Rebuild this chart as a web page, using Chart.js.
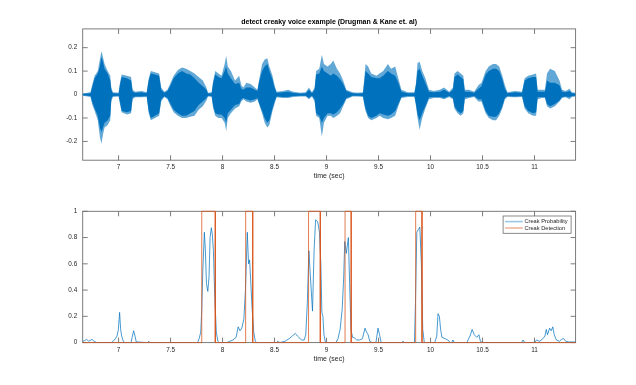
<!DOCTYPE html>
<html>
<head>
<meta charset="utf-8">
<script src="https://cdn.jsdelivr.net/npm/chart.js@4.4.0/dist/chart.umd.min.js"></script>
<style>
  body { margin: 0; background: #fff; }
  #wrap { position: relative; width: 636px; height: 385px; }
  canvas { position: absolute; left: 0; }
</style>
</head>
<body>
<div id="wrap">
  <canvas id="wave" width="636" height="192" style="top:0"></canvas>
  <canvas id="creak" width="636" height="193" style="top:192px"></canvas>
</div>
<script>
// time axis (sec)
const timeMin = 6.655;
const timeMax = 11.395;
const timeTicks = [7, 7.5, 8, 8.5, 9, 9.5, 10, 10.5, 11];

const waveTime = [
  6.655, 6.70, 6.73, 6.745, 6.77, 6.80, 6.82, 6.835, 6.85, 6.865, 6.895, 6.92, 6.93, 6.945,
  7.00, 7.013, 7.03, 7.08, 7.12, 7.135, 7.16, 7.22, 7.27, 7.29, 7.31, 7.35, 7.39, 7.41, 7.44, 7.47,
  7.50, 7.53, 7.57, 7.61, 7.65, 7.69, 7.73, 7.77, 7.81, 7.845, 7.86, 7.895, 7.91, 7.93, 7.96, 7.99, 8.02, 8.035, 8.05, 8.08, 8.12, 8.16, 8.18, 8.20,
  8.23, 8.27, 8.31, 8.335, 8.35, 8.38, 8.405, 8.43, 8.45, 8.48, 8.50, 8.52, 8.58, 8.63, 8.68, 8.75, 8.80, 8.83, 8.86, 8.885, 8.90, 8.93, 8.955,
  8.975, 9.01, 9.04, 9.065, 9.10, 9.13, 9.16, 9.19, 9.22, 9.25, 9.30, 9.35, 9.365, 9.375, 9.40, 9.43, 9.48, 9.51, 9.545, 9.59, 9.62, 9.66, 9.69,
  9.72, 9.78, 9.845, 9.86, 9.875, 9.895, 9.92, 9.95, 9.985, 10.03, 10.09, 10.13, 10.18, 10.215, 10.23, 10.26, 10.29, 10.315, 10.33, 10.37, 10.42, 10.46,
  10.49, 10.53, 10.56, 10.60, 10.63, 10.66, 10.69, 10.715, 10.74, 10.81, 10.88, 10.905, 10.94, 10.985, 11.015, 11.03, 11.07, 11.10, 11.12, 11.15, 11.195, 11.24, 11.265, 11.30, 11.335, 11.36, 11.395
];
const waveOuterTop = [
  .005, .008, .01, .04, .08, .10, .15, .185, .16, .13, .10, .08, .03, .01,
  .008, .05, .085, .08, .075, .02, .012, .015, .01, .07, .10, .095, .09, .03, .012, .02,
  .05, .08, .105, .115, .11, .10, .09, .075, .06, .03, .008, .01, .06, .10, .09, .08, .13, .165, .12, .10, .06, .08, .04, .03,
  .05, .045, .03, .02, .06, .13, .15, .155, .12, .08, .04, .012, .015, .02, .012, .008, .01, .03, .01, .03, .10, .11, .17,
  .13, .12, .13, .145, .11, .09, .06, .02, .015, .01, .008, .01, .08, .13, .12, .09, .08, .09, .10, .13, .11, .12, .07,
  .02, .01, .01, .05, .135, .14, .10, .07, .02, .015, .02, .03, .012, .03, .09, .10, .09, .08, .02, .02, .012, .04,
  .05, .10, .12, .13, .13, .12, .08, .04, .01, .015, .012, .07, .08, .085, .09, .02, .02, .02, .09, .11, .10, .06, .02, .015, .025, .01, .008
];
const waveOuterBot = [
  -.005, -.008, -.01, -.04, -.07, -.11, -.18, -.21, -.17, -.14, -.13, -.11, -.03, -.01,
  -.008, -.04, -.075, -.085, -.08, -.02, -.012, -.012, -.01, -.08, -.11, -.10, -.09, -.03, -.01, -.02,
  -.05, -.075, -.09, -.10, -.10, -.095, -.09, -.065, -.05, -.025, -.008, -.01, -.06, -.09, -.10, -.10, -.12, -.155, -.10, -.08, -.06, -.05, -.03, -.02,
  -.03, -.035, -.03, -.02, -.04, -.08, -.12, -.14, -.13, -.07, -.04, -.012, -.015, -.015, -.01, -.008, -.008, -.02, -.008, -.03, -.09, -.10, -.18,
  -.12, -.09, -.09, -.10, -.09, -.08, -.05, -.02, -.015, -.008, -.008, -.01, -.05, -.07, -.10, -.11, -.10, -.09, -.10, -.105, -.10, -.09, -.05,
  -.015, -.01, -.01, -.05, -.10, -.15, -.10, -.06, -.02, -.015, -.015, -.02, -.01, -.02, -.06, -.08, -.09, -.08, -.02, -.015, -.01, -.03,
  -.03, -.08, -.10, -.11, -.11, -.09, -.06, -.02, -.01, -.012, -.01, -.06, -.08, -.09, -.09, -.02, -.015, -.015, -.05, -.06, -.05, -.03, -.015, -.012, -.02, -.01, -.008
];
const waveCoreTop = [
  .003, .005, .006, .03, .07, .09, .12, .16, .14, .11, .09, .06, .02, .006,
  .005, .04, .075, .07, .06, .012, .008, .01, .006, .06, .09, .085, .08, .02, .008, .015,
  .04, .07, .09, .10, .09, .085, .07, .05, .035, .02, .005, .006, .05, .085, .075, .07, .10, .12, .09, .07, .045, .05, .025, .02,
  .03, .03, .02, .015, .05, .10, .12, .13, .10, .065, .03, .008, .01, .012, .007, .005, .006, .02, .006, .02, .085, .09, .12,
  .10, .09, .08, .09, .08, .065, .045, .015, .01, .006, .005, .006, .06, .10, .09, .075, .07, .07, .08, .10, .09, .08, .05,
  .012, .006, .006, .04, .10, .11, .08, .05, .012, .01, .012, .02, .008, .02, .075, .085, .075, .065, .012, .012, .008, .025,
  .035, .085, .10, .11, .11, .10, .065, .025, .006, .01, .008, .06, .07, .075, .075, .012, .012, .012, .06, .05, .05, .04, .012, .01, .015, .006, .005
];
const waveCoreBot = [
  -.003, -.005, -.006, -.03, -.06, -.09, -.14, -.16, -.14, -.12, -.11, -.09, -.02, -.006,
  -.005, -.03, -.07, -.075, -.07, -.012, -.008, -.008, -.006, -.07, -.10, -.09, -.08, -.02, -.007, -.015,
  -.04, -.065, -.08, -.09, -.09, -.08, -.07, -.045, -.03, -.015, -.005, -.006, -.05, -.08, -.085, -.085, -.10, -.12, -.08, -.065, -.045, -.04, -.02, -.015,
  -.02, -.025, -.02, -.015, -.035, -.07, -.10, -.12, -.11, -.06, -.03, -.008, -.01, -.01, -.006, -.005, -.005, -.015, -.005, -.02, -.08, -.09, -.12,
  -.10, -.08, -.08, -.085, -.075, -.06, -.04, -.015, -.01, -.005, -.005, -.006, -.04, -.06, -.09, -.10, -.09, -.08, -.085, -.09, -.085, -.07, -.04,
  -.01, -.006, -.006, -.04, -.085, -.11, -.08, -.05, -.012, -.01, -.01, -.015, -.006, -.015, -.05, -.07, -.08, -.07, -.012, -.01, -.006, -.02,
  -.02, -.07, -.09, -.095, -.095, -.08, -.05, -.015, -.006, -.008, -.006, -.05, -.07, -.08, -.075, -.012, -.01, -.01, -.04, -.05, -.04, -.025, -.01, -.008, -.012, -.006, -.005
];
const waveTicks = [-0.2, -0.1, 0, 0.1, 0.2];

// creak probability
const probTime = [
  6.655, 6.675, 6.693, 6.71, 6.725, 6.744, 6.765, 6.79, 6.93, 6.945, 6.965, 6.985, 6.998, 7.01, 7.02, 7.03, 7.045, 7.06,
  7.12, 7.13, 7.145, 7.158, 7.17, 7.28, 7.29, 7.30, 7.76, 7.775, 7.79, 7.80, 7.81, 7.825, 7.835, 7.845, 7.858, 7.87,
  7.88, 7.892, 7.902, 7.912, 7.925, 7.94, 7.955, 7.97, 8.04, 8.07, 8.10, 8.13, 8.15, 8.168, 8.185, 8.205, 8.22, 8.238,
  8.25, 8.26, 8.272, 8.285, 8.30, 8.315, 8.33, 8.52, 8.53, 8.55, 8.60, 8.64, 8.67, 8.70, 8.72, 8.76, 8.785, 8.80,
  8.815, 8.83, 8.845, 8.865, 8.88, 8.895, 8.915, 8.932, 8.945, 8.955, 8.965, 8.975, 8.99, 9.09, 9.11, 9.13, 9.15, 9.165,
  9.175, 9.19, 9.21, 9.222, 9.235, 9.25, 9.27, 9.29, 9.32, 9.345, 9.37, 9.385, 9.40, 9.415, 9.44, 9.475, 9.495, 9.51,
  9.525, 9.72, 9.735, 9.75, 9.845, 9.855, 9.868, 9.882, 9.897, 9.912, 9.925, 9.94, 10.04, 10.06, 10.072, 10.085, 10.097, 10.11,
  10.14, 10.167, 10.19, 10.205, 10.215, 10.228, 10.35, 10.36, 10.38, 10.40, 10.42, 10.445, 10.465, 10.48, 10.50, 10.875, 10.89, 10.905,
  11.0, 11.02, 11.05, 11.08, 11.10, 11.113, 11.125, 11.145, 11.16, 11.175, 11.19, 11.21, 11.24, 11.26, 11.28, 11.30, 11.33, 11.395
];
const probValue = [
  0.01, 0.015, 0.025, 0.012, 0.015, 0.025, 0.01, 0, 0, 0.01, 0.025, 0.05, 0.1, 0.23, 0.1, 0.05, 0.01, 0,
  0, 0.04, 0.09, 0.05, 0.005, 0, 0.01, 0, 0, 0.03, 0.08, 0.25, 0.55, 0.84, 0.7, 0.45, 0.39, 0.5,
  0.8, 0.875, 0.82, 0.7, 0.35, 0.08, 0.01, 0, 0, 0.01, 0.02, 0.04, 0.12, 0.09, 0.11, 0.18, 0.4, 0.84,
  0.6, 0.63, 0.45, 0.25, 0.08, 0.01, 0, 0, 0.01, 0, 0.01, 0.03, 0.05, 0.07, 0.05, 0.02, 0.02, 0.06,
  0.3, 0.7, 0.5, 0.24, 0.7, 0.935, 0.92, 0.84, 0.6, 0.23, 0.2, 0.06, 0, 0, 0.03, 0.1, 0.25, 0.5,
  0.77, 0.68, 0.8, 0.45, 0.1, 0.04, 0.035, 0.02, 0.02, 0.03, 0.11, 0.08, 0.06, 0.01, 0, 0, 0.11, 0.06,
  0, 0, 0.01, 0, 0, 0.3, 0.84, 0.86, 0.88, 0.6, 0.1, 0, 0, 0.05, 0.22, 0.2, 0.1, 0.04,
  0.03, 0.02, 0, 0, 0.02, 0, 0, 0.02, 0.05, 0.1, 0.06, 0.04, 0.06, 0.01, 0, 0, 0.02, 0,
  0, 0.02, 0.01, 0.03, 0.05, 0.1, 0.06, 0.11, 0.09, 0.12, 0.06, 0.02, 0.01, 0.025, 0.03, 0.01, 0.005, 0.005
];
// creak detection intervals (binary 0/1)
const detStart = [7.80, 8.222, 8.827, 9.178, 9.857];
const detEnd = [7.93, 8.29, 8.94, 9.237, 9.918];
const creakTicks = [0, 0.2, 0.4, 0.6, 0.8, 1];

const blue = '#0072BD';
const orange = '#D95319';
const textCol = '#262626';
const boxCol = '#6e6e6e';
const fam = '"Liberation Sans", Arial, Helvetica, sans-serif';

Chart.defaults.font.family = fam;
Chart.defaults.color = textCol;

const pts = (xs, ys) => xs.map((x, i) => ({x: x, y: ys[i]}));

let detPoints = [{x: timeMin, y: 0}];
detStart.forEach((s, i) => {
  detPoints.push({x: s, y: 0}, {x: s, y: 1}, {x: detEnd[i], y: 1}, {x: detEnd[i], y: 0});
});
detPoints.push({x: timeMax, y: 0});

// matlab style box with inward ticks on all four sides
const axesBox = {
  id: 'axesBox',
  beforeDatasetsDraw(chart) {
    const {ctx, chartArea: a, scales} = chart;
    ctx.save();
    ctx.strokeStyle = boxCol;
    ctx.lineWidth = 0.9;
    ctx.strokeRect(a.left, a.top, a.width, a.height);
    ctx.beginPath();
    scales.x.ticks.forEach(t => {
      const px = scales.x.getPixelForValue(t.value);
      ctx.moveTo(px, a.bottom); ctx.lineTo(px, a.bottom - 5);
      ctx.moveTo(px, a.top); ctx.lineTo(px, a.top + 5);
    });
    scales.y.ticks.forEach(t => {
      const py = scales.y.getPixelForValue(t.value);
      ctx.moveTo(a.left, py); ctx.lineTo(a.left + 5, py);
      ctx.moveTo(a.right, py); ctx.lineTo(a.right - 5, py);
    });
    ctx.stroke();
    ctx.restore();
  }
};

const creakLegend = {
  id: 'creakLegend',
  afterDatasetsDraw(chart) {
    const {ctx, chartArea: a} = chart;
    const left = a.right - 72.5, top = a.top + 4.7, w = 68, h = 17.3;
    ctx.save();
    ctx.fillStyle = '#fff';
    ctx.fillRect(left, top, w, h);
    ctx.strokeStyle = boxCol;
    ctx.lineWidth = 0.8;
    ctx.strokeRect(left, top, w, h);
    ctx.font = '5.7px ' + fam;
    ctx.textBaseline = 'middle';
    const items = chart.data.datasets.slice().reverse();
    items.forEach((ds, i) => {
      const y = top + 5.6 + i * 6.4;
      ctx.globalAlpha = 0.5;
      ctx.strokeStyle = ds.borderColor;
      ctx.lineWidth = 1.6;
      ctx.beginPath();
      ctx.moveTo(left + 2, y); ctx.lineTo(left + 19.7, y);
      ctx.stroke();
      ctx.globalAlpha = 1;
      ctx.fillStyle = textCol;
      ctx.fillText(ds.label, left + 21.3, y);
    });
    ctx.restore();
  }
};

function xScale(h, titlePad) {
  return {
    type: 'linear', min: timeMin, max: timeMax,
    afterBuildTicks: s => { s.ticks = timeTicks.map(v => ({value: v})); },
    afterFit: s => { s.height = h; },
    grid: {display: false, drawTicks: false},
    border: {display: false},
    ticks: {autoSkip: false, maxRotation: 0, padding: 3.5, font: {size: 6.4}, color: textCol,
            callback: v => String(v)},
    title: {display: true, text: 'time (sec)', font: {size: 7}, color: textCol,
            padding: {top: 0, bottom: titlePad}}
  };
}
function yScale(lo, hi, tickVals) {
  return {
    type: 'linear', min: lo, max: hi,
    afterBuildTicks: s => { s.ticks = tickVals.map(v => ({value: v})); },
    afterFit: s => { s.width = 82.7; },
    grid: {display: false, drawTicks: false},
    border: {display: false},
    ticks: {autoSkip: false, padding: 5.5, font: {size: 6.4}, color: textCol,
            callback: v => String(v)}
  };
}

const env = (label, data, color, fill) => ({
  label: label, data: data, fill: fill, backgroundColor: color,
  borderColor: 'transparent', borderWidth: 0, pointRadius: 0, tension: 0
});

new Chart(document.getElementById('wave'), {
  type: 'line',
  data: {
    datasets: [
      env('core top', pts(waveTime, waveCoreTop), blue, '+1'),
      env('core bottom', pts(waveTime, waveCoreBot), blue, false),
      env('outer top', pts(waveTime, waveOuterTop), 'rgba(0,114,189,0.62)', '+1'),
      env('outer bottom', pts(waveTime, waveOuterBot), 'rgba(0,114,189,0.62)', false)
    ]
  },
  options: {
    responsive: false, animation: false, devicePixelRatio: 1,
    layout: {padding: {left: 0, right: 60.4, top: 0, bottom: 0}},
    plugins: {
      legend: {display: false}, tooltip: {enabled: false},
      title: {display: true, fullSize: false, text: 'detect creaky voice example (Drugman & Kane et. al)',
              color: '#000', font: {size: 7, weight: 'bold'}, padding: {top: 18.3, bottom: 2.2}}
    },
    scales: {x: xScale(31.8, 12.1), y: yScale(-0.28, 0.28, waveTicks)}
  },
  plugins: [axesBox]
});

new Chart(document.getElementById('creak'), {
  type: 'line',
  data: {
    datasets: [
      {label: 'Creak Detection', data: detPoints, borderColor: 'rgba(217,83,25,0.85)', borderWidth: 0.9,
       pointRadius: 0, tension: 0, fill: false, clip: 3},
      {label: 'Creak Probability', data: pts(probTime, probValue), borderColor: 'rgba(0,114,189,0.8)', borderWidth: 0.9,
       pointRadius: 0, tension: 0, fill: false}
    ]
  },
  options: {
    responsive: false, animation: false, devicePixelRatio: 1,
    layout: {padding: {left: 0, right: 60.4, top: 19.3, bottom: 0}},
    plugins: {legend: {display: false}, tooltip: {enabled: false}},
    scales: {x: xScale(42.4, 22.2), y: yScale(0, 1, creakTicks)}
  },
  plugins: [axesBox, creakLegend]
});
</script>
</body>
</html>
